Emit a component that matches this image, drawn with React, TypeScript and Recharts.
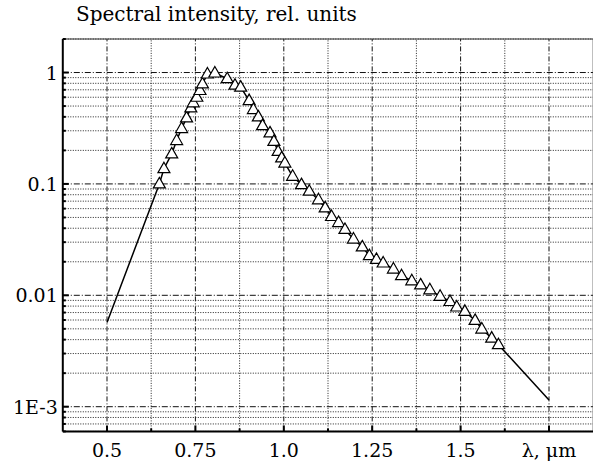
import React from 'react';
import { ComposedChart, Line, Scatter, XAxis, YAxis, ReferenceLine } from 'recharts';

const FONT = '"DejaVu Serif", serif';

// Measured spectral points (triangles)
const markerWavelength = [0.648, 0.661, 0.683, 0.697, 0.711, 0.725, 0.737, 0.744, 0.754, 0.763, 0.770, 0.784, 0.805, 0.840, 0.862, 0.878, 0.902, 0.914, 0.928, 0.940, 0.961, 0.972, 0.984, 0.994, 1.003, 1.025, 1.050, 1.072, 1.098, 1.117, 1.135, 1.155, 1.173, 1.197, 1.222, 1.242, 1.262, 1.281, 1.310, 1.333, 1.362, 1.387, 1.413, 1.442, 1.470, 1.489, 1.512, 1.541, 1.560, 1.588, 1.607];
const markerIntensity = [0.100, 0.137, 0.186, 0.245, 0.314, 0.392, 0.482, 0.535, 0.60, 0.69, 0.79, 0.97, 0.99, 0.88, 0.77, 0.74, 0.56, 0.465, 0.40, 0.334, 0.287, 0.241, 0.196, 0.171, 0.154, 0.117, 0.0986, 0.086, 0.072, 0.061, 0.051, 0.045, 0.039, 0.032, 0.0272, 0.0227, 0.021, 0.0195, 0.0172, 0.0150, 0.0135, 0.0124, 0.0112, 0.0098, 0.0088, 0.00785, 0.00718, 0.00596, 0.00498, 0.00413, 0.0036];

// Solid curve end points (extrapolated parts)
const curveStartWavelength = 0.5;
const curveStartIntensity = 0.0057;
const curveEndWavelength = 1.75;
const curveEndIntensity = 0.00115;

// Axes
const xDomain = [0.375, 1.875];
const yDomain = [0.0006, 2];
const xMajorTicks = [0.5, 0.75, 1.0, 1.25, 1.5, 1.75];
const xMajorLabels = ['0.5', '0.75', '1.0', '1.25', '1.5', 'λ, μm'];
const xMinorTicks = [0.625, 0.875, 1.125, 1.375, 1.625];
const yMajorTicks = [0.001, 0.01, 0.1, 1];
const yMajorLabels = ['1E-3', '0.01', '0.1', '1'];
const yMinorMultipliers = [2, 3, 4, 5, 6, 7, 8, 9];
const yDecades = [0.0001, 0.001, 0.01, 0.1, 1];

const yMinorTicks: number[] = [];
yDecades.forEach((d) => {
  yMinorMultipliers.forEach((m) => {
    const v = d * m;
    if (v >= yDomain[0] * 0.999 && v <= yDomain[1] * 1.001) yMinorTicks.push(v);
  });
});

const markerData = markerWavelength.map((x, i) => ({ x, y: markerIntensity[i] }));
const lineData = [
  { x: curveStartWavelength, y: curveStartIntensity },
  ...markerData,
  { x: curveEndWavelength, y: curveEndIntensity },
];

const allYTicks = [...yMinorTicks, ...yMajorTicks].sort((a, b) => a - b);
const allXTicks = [...xMajorTicks, ...xMinorTicks].sort((a, b) => a - b);

const YTick = (props: any) => {
  const { x, y, payload } = props;
  const idx = yMajorTicks.indexOf(payload.value);
  const major = idx >= 0;
  return (
    <g>
      <line x1={x} x2={x + (major ? 6 : 3)} y1={y} y2={y} stroke="#000" strokeWidth={2} />
      {major && (
        <text x={x - 5} y={y + 7} textAnchor="end" fontFamily={FONT} fontSize={19} fill="#000">
          {yMajorLabels[idx]}
        </text>
      )}
    </g>
  );
};

const XTick = (props: any) => {
  const { x, y, payload } = props;
  const idx = xMajorTicks.indexOf(payload.value);
  const major = idx >= 0;
  return (
    <g>
      <line x1={x} x2={x} y1={y} y2={y - (major ? 6 : 3)} stroke="#000" strokeWidth={2} />
      {major && (
        <text x={x} y={y + 26} textAnchor="middle" fontFamily={FONT} fontSize={19} fill="#000">
          {xMajorLabels[idx]}
        </text>
      )}
    </g>
  );
};

const Triangle = (props: any) => {
  const { cx, cy } = props;
  if (cx == null || cy == null) return <g />;
  const d = `M${cx},${cy - 6.5} L${cx + 6},${cy + 4} L${cx - 6},${cy + 4} Z`;
  return <path d={d} fill="#fff" stroke="#000" strokeWidth={1.2} />;
};

export default function App() {
  return (
    <div style={{ position: 'absolute', left: 0, top: 0, width: 593, height: 466, overflow: 'hidden', background: '#fff' }}>
      <div
        style={{
          position: 'absolute',
          left: 76,
          top: 4,
          fontFamily: FONT,
          fontSize: 20,
          lineHeight: '20px',
          color: '#000',
          whiteSpace: 'nowrap',
          zIndex: 2,
        }}
      >
        Spectral intensity, rel. units
      </div>
      <ComposedChart width={600} height={466} margin={{ top: 39, right: 6.8, bottom: 4.6, left: 2.8 }}>
        {yMinorTicks.map((v) => (
          <ReferenceLine key={'hm' + v} y={v} stroke="#222" strokeWidth={1} strokeDasharray="1 1.5" />
        ))}
        {yMajorTicks.map((v) => (
          <ReferenceLine key={'hM' + v} y={v} stroke="#111" strokeWidth={1} strokeDasharray="6 2 1 2" />
        ))}
        {xMinorTicks.map((v) => (
          <ReferenceLine key={'vm' + v} x={v} stroke="#222" strokeWidth={1} strokeDasharray="1 1.5" />
        ))}
        {xMajorTicks.map((v) => (
          <ReferenceLine key={'vM' + v} x={v} stroke="#111" strokeWidth={1} strokeDasharray="5 2 1 2" />
        ))}
        <ReferenceLine y={yDomain[1]} stroke="#333" strokeWidth={1} />
        <ReferenceLine x={xDomain[1]} stroke="#333" strokeWidth={1} />
        <XAxis
          dataKey="x"
          type="number"
          domain={xDomain}
          allowDataOverflow
          ticks={allXTicks}
          interval={0}
          tickSize={0}
          tickMargin={0}
          tickLine={false}
          tick={<XTick />}
          height={30}
          axisLine={{ stroke: '#000', strokeWidth: 2 }}
        />
        <YAxis
          type="number"
          scale="log"
          domain={yDomain}
          allowDataOverflow
          ticks={allYTicks}
          interval={0}
          tickSize={0}
          tickMargin={0}
          tickLine={false}
          tick={<YTick />}
          width={60}
          axisLine={{ stroke: '#000', strokeWidth: 2 }}
        />
        <Line
          data={lineData}
          dataKey="y"
          type="linear"
          dot={false}
          stroke="#000"
          strokeWidth={1.5}
          isAnimationActive={false}
        />
        <Scatter data={markerData} dataKey="y" shape={<Triangle />} isAnimationActive={false} />
      </ComposedChart>
    </div>
  );
}
